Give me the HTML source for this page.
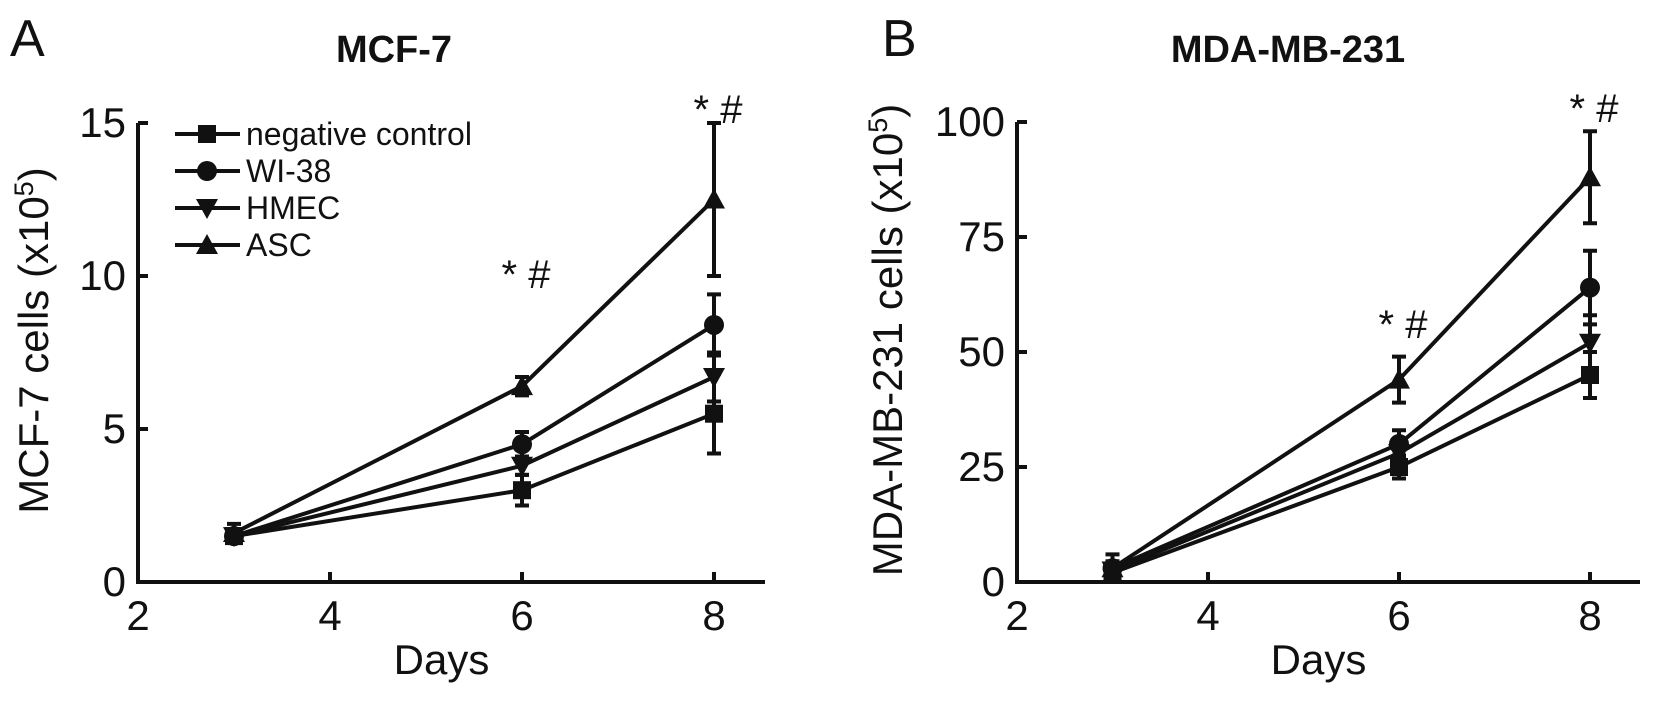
<!DOCTYPE html>
<html><head><meta charset="utf-8"><style>
body{margin:0;background:#fff}
svg text{font-family:"Liberation Sans",sans-serif;fill:#111}
</style></head><body>
<svg id="c" width="1654" height="700" xmlns="http://www.w3.org/2000/svg"></svg>
<script>
const days=[3,6,8];
const seriesNames=["negative control","WI-38","HMEC","ASC"];
const markers=["square","circle","tri-down","tri-up"];
const mcfNC=[1.5,3.0,5.5], mcfWI=[1.5,4.5,8.4], mcfHM=[1.5,3.8,6.7], mcfASC=[1.6,6.4,12.5];
const mcfNCe=[0.2,0.5,1.3], mcfWIe=[0.2,0.4,1.0], mcfHMe=[0.2,0.3,0.8], mcfASCe=[0.3,0.3,2.5];
const mdaNC=[2,25,45], mdaWI=[3,30,64], mdaHM=[2.5,28,52], mdaASC=[3,44,88];
const mdaNCe=[1.5,2.5,5], mdaWIe=[1.5,3,8], mdaHMe=[1.5,2.5,6], mdaASCe=[3,5,10];
const xTicks=[2,4,6,8];
const mcfTicks=[0,5,10,15];
const mdaTicks=[0,25,50,75,100];

const NS="http://www.w3.org/2000/svg";
const svg=document.getElementById('c');
function el(t,a,p){const e=document.createElementNS(NS,t);for(const k in a)e.setAttribute(k,a[k]);(p||svg).appendChild(e);return e;}
function txt(s,a,p){const e=el('text',a,p);e.textContent=s;return e;}
function marker(g,type,x,y,s){
 if(type==="square")return el('rect',{x:x-s,y:y-s,width:2*s,height:2*s,fill:'#111'},g);
 if(type==="circle")return el('circle',{cx:x,cy:y,r:s+1,fill:'#111'},g);
 if(type==="tri-down")return el('polygon',{points:`${x-s-2},${y-s} ${x+s+2},${y-s} ${x},${y+s+2}`,fill:'#111'},g);
 return el('polygon',{points:`${x-s-2},${y+s} ${x+s+2},${y+s} ${x},${y-s-2}`,fill:'#111'},g);
}
function panel(o){
 const X=v=>o.x0+(v-2)/6*(o.x8-o.x0);
 const Y=v=>o.yb+(o.yt-o.yb)*v/o.ymax;
 const g=el('g',{});
 
 
 const ax=el('path',{d:`M${o.x0},${Y(o.ymax)} L${o.x0},${o.yb} L${o.xend},${o.yb}`,stroke:'#111','stroke-width':4,fill:'none'},g);
 
 
 o.yt2.forEach(v=>{
  el('line',{x1:o.x0,x2:o.x0+10,y1:Y(v),y2:Y(v),stroke:'#111','stroke-width':4},g);
  const t=txt(String(v),{x:o.x0-12,y:Y(v)+14,'font-size':42,'text-anchor':'end'},g);
  
  
 });
 xTicks.forEach(v=>{
  el('line',{x1:X(v),x2:X(v),y1:o.yb,y2:o.yb-10,stroke:'#111','stroke-width':4},g);
  const t=txt(String(v),{x:X(v),y:o.yb+48,'font-size':42,'text-anchor':'middle'},g);
  
  
 });
 const xt=txt('Days',{x:(o.x0+o.xend)/2-10,y:674,'font-size':42,'text-anchor':'middle'},g);
 
 
 const yt=txt(o.ylabel,{x:0,y:0,'font-size':42,'text-anchor':'middle',transform:`translate(${o.ylx},${(o.yb+Y(o.ymax))/2-12}) rotate(-90)`},g);
 el('tspan',{'baseline-shift':'super','font-size':27},yt).textContent='5';
 el('tspan',{},yt).textContent=')';
 
 
 const tt=txt(o.title,{x:o.titleX,y:62,'font-size':38,'font-weight':'bold','text-anchor':'middle'},g);
 
 
 const pl=txt(o.letter,{x:o.letterX,y:56,'font-size':52},g);
 
 
 o.series.forEach((s,i)=>{
  const sg=el('g',{},g);
  
  
  el('polyline',{points:days.map((d,j)=>X(d)+','+Y(s[j])).join(' '),stroke:'#111','stroke-width':4,fill:'none'},sg);
  days.forEach((d,j)=>{
   const e=o.errs[i][j];
   el('path',{d:`M${X(d)},${Y(s[j]-e)} V${Y(s[j]+e)} M${X(d)-7},${Y(s[j]-e)} h14 M${X(d)-7},${Y(s[j]+e)} h14`,stroke:'#111','stroke-width':4,fill:'none'},sg);
   const m=marker(sg,markers[i],X(d),Y(s[j]),9);
   
   
  });
 });
 o.sig.forEach(([d,v])=>{
  const t=txt('* #',{x:X(d)+4,y:Y(v),'font-size':40,'text-anchor':'middle'},g);
  
  
 });
 return g;
}
panel({name:'panel-mcf7',x0:138,x8:714,xend:765,yb:582,yt:123,ymax:15,yt2:mcfTicks,
 series:[mcfNC,mcfWI,mcfHM,mcfASC],errs:[mcfNCe,mcfWIe,mcfHMe,mcfASCe],
 ylabel:'MCF-7 cells (x10',ylx:48,title:'MCF-7',titleX:394,letter:'A',letterX:10,sig:[[6,9.6],[8,15.0]]});
panel({name:'panel-mda-mb-231',x0:1017,x8:1590,xend:1640,yb:582,yt:122,ymax:100,yt2:mdaTicks,
 series:[mdaNC,mdaWI,mdaHM,mdaASC],errs:[mdaNCe,mdaWIe,mdaHMe,mdaASCe],
 ylabel:'MDA-MB-231 cells (x10',ylx:902,title:'MDA-MB-231',titleX:1288,letter:'B',letterX:882,sig:[[6,53],[8,100]]});
// legend
const lg=el('g',{});


seriesNames.forEach((n,i)=>{
 const y=134+i*37;
 const e=el('g',{},lg);
 
 
 el('line',{x1:175,x2:240,y1:y,y2:y,stroke:'#111','stroke-width':4},e);
 marker(e,markers[i],207,y,9);
 txt(n,{x:246,y:y+11,'font-size':32},e);
});
</script>
</body></html>
